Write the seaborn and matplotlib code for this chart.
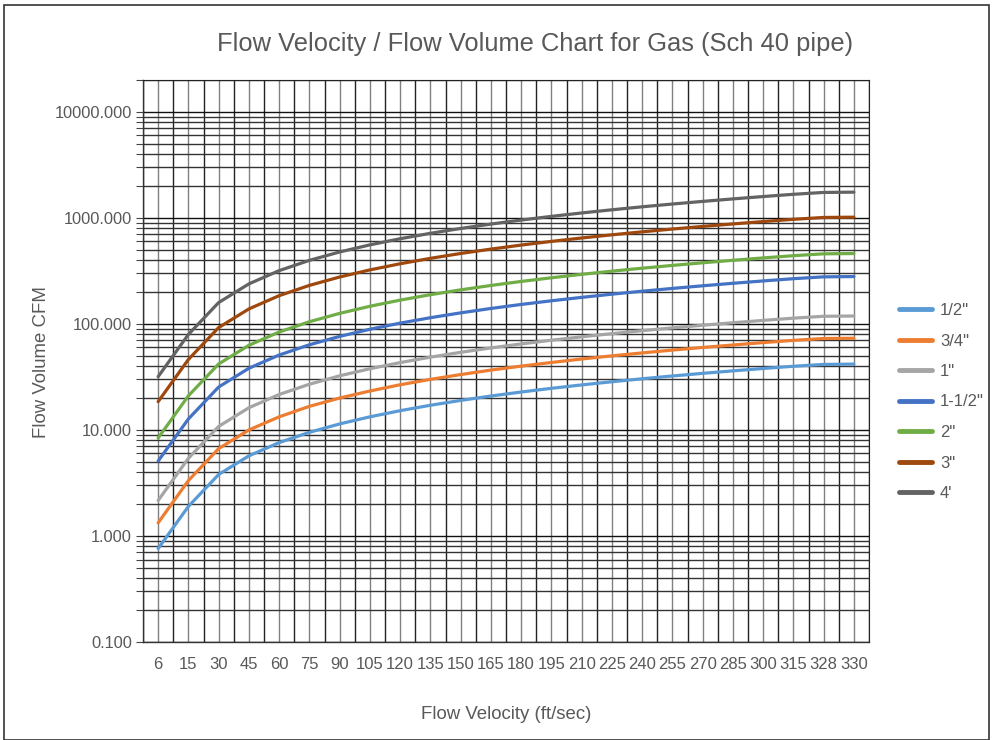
import numpy as np
import pandas as pd
import matplotlib
matplotlib.use("Agg")
import matplotlib.pyplot as plt
import seaborn as sns
from matplotlib.patches import Rectangle
from matplotlib.ticker import LogLocator, FixedLocator, NullFormatter, FuncFormatter

# flow velocity categories (ft/sec)
velocity = ["6", "15", "30", "45", "60", "75", "90", "105", "120", "135", "150", "165",
            "180", "195", "210", "225", "240", "255", "270", "285", "300", "315", "328", "330"]

# flow volume (CFM) per pipe size
half_in = [0.76, 1.90, 3.80, 5.70, 7.60, 9.50, 11.4, 13.3, 15.2, 17.1, 19.0, 20.9,
           22.8, 24.7, 26.6, 28.5, 30.4, 32.3, 34.2, 36.1, 38.0, 39.9, 41.5, 41.8]
three_q_in = [1.33, 3.33, 6.67, 10.0, 13.3, 16.7, 20.0, 23.3, 26.7, 30.0, 33.3, 36.7,
              40.0, 43.3, 46.7, 50.0, 53.3, 56.7, 60.0, 63.3, 66.7, 70.0, 72.9, 73.3]
one_in = [2.16, 5.40, 10.8, 16.2, 21.6, 27.0, 32.4, 37.8, 43.2, 48.6, 54.0, 59.4,
          64.8, 70.2, 75.6, 81.0, 86.4, 91.8, 97.2, 102.6, 108.0, 113.4, 118.1, 118.8]
one_half_in = [5.09, 12.7, 25.4, 38.2, 50.9, 63.6, 76.3, 89.1, 101.8, 114.5, 127.2, 140.0,
               152.7, 165.4, 178.1, 190.9, 203.6, 216.3, 229.0, 241.8, 254.5, 267.2, 278.2, 279.9]
two_in = [8.39, 21.0, 41.9, 62.9, 83.9, 104.9, 125.8, 146.8, 167.8, 188.8, 209.7, 230.7,
          251.7, 272.6, 293.6, 314.6, 335.6, 356.5, 377.5, 398.5, 419.5, 440.4, 458.6, 461.4]
three_in = [18.5, 46.2, 92.4, 138.6, 184.8, 231.0, 277.2, 323.4, 369.6, 415.8, 462.0, 508.2,
            554.4, 600.6, 646.8, 693.0, 739.3, 785.5, 831.7, 877.9, 924.1, 970.3, 1010.3, 1016.5]
four_in = [31.8, 79.6, 159.1, 238.7, 318.3, 397.8, 477.4, 557.0, 636.5, 716.1, 795.6, 875.2,
           954.8, 1034.3, 1113.9, 1193.5, 1273.0, 1352.6, 1432.2, 1511.7, 1591.3, 1670.9, 1739.8, 1750.4]

sizes = ['1/2"', '3/4"', '1"', '1-1/2"', '2"', '3"', "4'"]
series = [half_in, three_q_in, one_in, one_half_in, two_in, three_in, four_in]
colors = ["#5B9BD5", "#ED7D31", "#A5A5A5", "#4472C4", "#70AD47", "#9E480E", "#636363"]

rows = []
for name, vals in zip(sizes, series):
    for i, v in enumerate(vals):
        rows.append({"pos": i, "cfm": v, "size": name})
df = pd.DataFrame(rows)

sns.set_style("white")
plt.rcParams["font.family"] = ["Liberation Sans", "DejaVu Sans"]
text_col = "#595959"

fig = plt.figure(figsize=(9.93, 7.4), dpi=100)
ax = fig.add_axes([143 / 993, 1 - 642 / 740, (869 - 143) / 993, (642 - 80) / 740])

sns.lineplot(data=df, x="pos", y="cfm", hue="size", hue_order=sizes,
             palette=colors, linewidth=2.3, ax=ax, legend=False, zorder=3)

ax.set_yscale("log")
ax.set_ylim(0.1, 20000)
ax.set_xlim(-0.5, len(velocity) - 0.5)

# grid lines: category centres and boundaries
ax.set_xticks(range(len(velocity)))
ax.set_xticklabels(velocity)
ax.xaxis.set_minor_locator(FixedLocator(np.arange(-0.5, len(velocity), 1.0)))
ax.grid(which="major", axis="x", color="#808080", linewidth=1.0)
ax.grid(which="minor", axis="x", color="#222222", linewidth=1.0)

ax.yaxis.set_major_locator(LogLocator(base=10, numticks=10))
ax.yaxis.set_minor_locator(LogLocator(base=10, subs=np.arange(2, 10), numticks=20))
ax.yaxis.set_minor_formatter(NullFormatter())
ax.yaxis.set_major_formatter(FuncFormatter(lambda v, p: f"{v:.3f}"))
ax.grid(which="major", axis="y", color="#111111", linewidth=1.0)
ax.grid(which="minor", axis="y", color="#333333", linewidth=1.0)
ax.set_axisbelow(True)

ax.tick_params(axis="x", which="both", length=0, pad=11, labelsize=12, labelcolor=text_col)
ax.tick_params(axis="y", which="major", length=5, width=0.8, color="#444444",
               direction="out", left=True, pad=3, labelsize=11.8, labelcolor=text_col)
ax.tick_params(axis="y", which="minor", length=5, width=0.8, color="#444444",
               direction="out", left=True)

for s in ["top", "right"]:
    ax.spines[s].set_visible(True)
    ax.spines[s].set_color("#222222")
for s in ["left", "bottom"]:
    ax.spines[s].set_color("#333333")
    ax.spines[s].set_linewidth(1.0)

ax.set_xlabel("Flow Velocity (ft/sec)", fontsize=13.4, color=text_col, labelpad=24)
ax.set_ylabel("")
fig.text(42 / 993, 1 - 362 / 740, "Flow Volume CFM", rotation=90, ha="center", va="center",
         fontsize=13.4, color=text_col)
fig.text(535 / 993, 1 - 44 / 740, "Flow Velocity / Flow Volume Chart for Gas (Sch 40 pipe)",
         ha="center", va="center", fontsize=18.4, color=text_col)

# legend on the right
handles = [plt.Line2D([0], [0], color=c, lw=3.5) for c in colors]
fig.legend(handles, sizes, loc="center left", bbox_to_anchor=(884 / 993, 1 - 402 / 740),
           frameon=False, fontsize=12, labelcolor=text_col, handlelength=2.0,
           handletextpad=0.45, labelspacing=0.93)

# outer frame
fig.patches.append(Rectangle((4 / 993, 0.0), 985 / 993, 1 - 5 / 740, transform=fig.transFigure,
                             fill=False, edgecolor="#333333", linewidth=1.2))

fig.savefig("out.png", dpi=100)
